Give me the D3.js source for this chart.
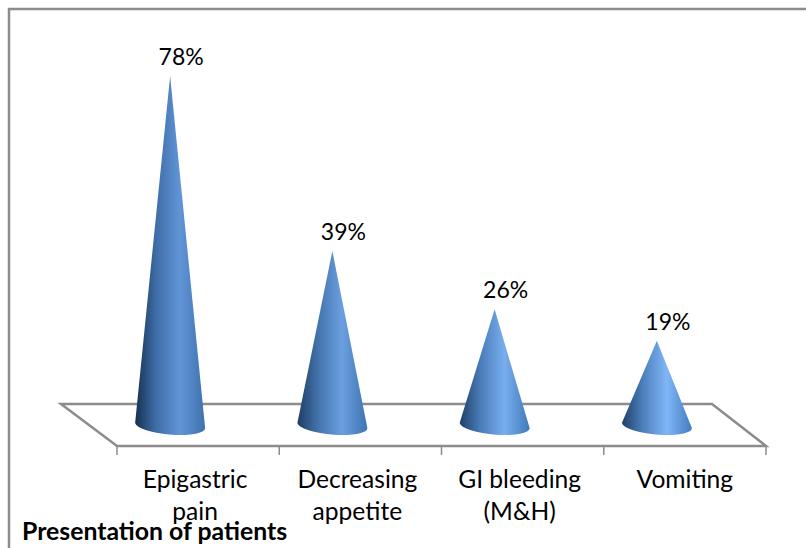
<!DOCTYPE html>
<html>
<head>
<meta charset="utf-8">
<script src="https://cdn.jsdelivr.net/npm/d3@7"></script>
<style>
  html, body { margin: 0; padding: 0; background: #fff; }
  text { font-family: Lato, "Open Sans", sans-serif; fill: #000; }
</style>
</head>
<body>
<svg class="cone-chart" width="806" height="548"></svg>
<script>
const categories = ["Epigastric pain", "Decreasing appetite", "GI bleeding (M&H)", "Vomiting"];
const categoryLines = [["Epigastric", "pain"], ["Decreasing", "appetite"], ["GI bleeding", "(M&H)"], ["Vomiting"]];
const values = [78, 39, 26, 19];
const valueLabels = ["78%", "39%", "26%", "19%"];
const chartTitle = "Presentation of patients";

const svg = d3.select(".cone-chart");
const grey = "#8c8c8c";

const x = d3.scaleBand().domain(categories).range([117, 766]);
const y = d3.scaleLinear().domain([0, 78]).range([426, 76]);

// 3D floor is sheared back and to the left of the axis
const shearX = 56;
const floorFront = 446;
const floorBack = 404;

// Chart border, open on the right and bottom
svg.append("path")
  .attr("d", "M806,9 H9 V548")
  .attr("fill", "none")
  .attr("stroke", grey)
  .attr("stroke-width", 2.5);

// Floor
svg.append("path")
  .attr("d", d3.line()([
    [x.range()[0], floorFront],
    [x.range()[0] - shearX, floorBack],
    [x.range()[1] - shearX + 2, floorBack],
    [x.range()[1], floorFront],
  ]) + "Z")
  .attr("fill", "#fff")
  .attr("stroke", grey)
  .attr("stroke-width", 2.5);

// Ticks
const tickXs = categories.map((d) => x(d)).concat(x.range()[1]);
svg.append("g").selectAll("line").data(tickXs).join("line")
  .attr("x1", (d) => d).attr("x2", (d) => d)
  .attr("y1", floorFront).attr("y2", floorFront + 9)
  .attr("stroke", grey)
  .attr("stroke-width", 1.5);

// Cone shading, a bit lighter towards the right of the chart
const defs = svg.append("defs");
const shades = [
  ["#16304f", "#3f6ea8", "#6195d6", "#3e72ae"],
  ["#1e3d63", "#4474ad", "#6a9fe0", "#3f74b2"],
  ["#1f4068", "#4a7cb8", "#78aef0", "#4079bb"],
  ["#1f4068", "#4c7fbc", "#80b6f7", "#437dc0"],
];
shades.forEach((s, i) => {
  const g = defs.append("linearGradient").attr("id", `cone-${i}`);
  [0, 0.3, 0.64, 1].forEach((o, j) => {
    g.append("stop").attr("offset", o).attr("stop-color", s[j]);
  });
});

// Cones
const coneHalf = 35;
const coneCenter = (d) => x(d) + x.bandwidth() / 2 - 28;
svg.append("g").selectAll("path").data(categories).join("path")
  .attr("fill", (d, i) => `url(#cone-${i})`)
  .attr("d", (d, i) => {
    const cx = coneCenter(d);
    return `M${cx - coneHalf},423 L${cx},${y(values[i])} L${cx + coneHalf},428 ` +
      `A${coneHalf},9 5 0 1 ${cx - coneHalf},423 Z`;
  });

// Value labels
svg.append("g").selectAll("text").data(categories).join("text")
  .attr("x", (d) => coneCenter(d) + 11)
  .attr("y", (d, i) => y(values[i]) - 11)
  .attr("text-anchor", "middle")
  .attr("font-size", 23)
  .text((d, i) => valueLabels[i]);

// Category labels
const labels = svg.append("g").selectAll("text").data(categories).join("text")
  .attr("text-anchor", "middle")
  .attr("font-size", 24.6);
labels.each(function (d, i) {
  d3.select(this).selectAll("tspan").data(categoryLines[i]).join("tspan")
    .attr("x", x(d) + x.bandwidth() / 2 - 3 + (i === 3 ? 3 : 0))
    .attr("y", (l, j) => 488 + j * 32)
    .text((l) => l);
});

// Title
svg.append("text")
  .attr("x", 22)
  .attr("y", 540)
  .attr("font-size", 24.8)
  .attr("font-weight", 700)
  .text(chartTitle);
</script>
</body>
</html>
